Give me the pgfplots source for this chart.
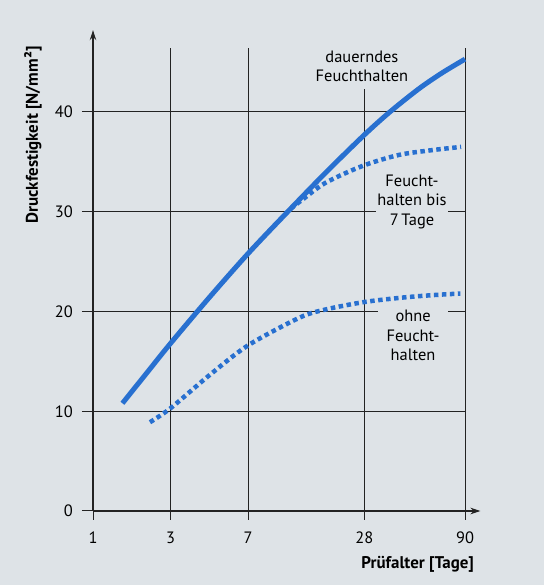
\documentclass[border=0pt]{standalone}
\usepackage{pgfplots}
\pgfplotsset{compat=1.18}
\usepackage{fontspec}
\setmainfont{PT Sans}
\usetikzlibrary{arrows.meta}
\definecolor{bg}{RGB}{222,227,231}
\definecolor{curve}{RGB}{40,112,208}
\definecolor{gridc}{RGB}{35,35,35}
\newcommand{\lbl}{\fontsize{16.5}{19.3}\selectfont}
\newcommand{\blbl}{\fontsize{17}{20}\selectfont}
\begin{document}
\begin{tikzpicture}
\fill[bg] (0bp,0bp) rectangle (544bp,585bp);
\useasboundingbox (0bp,0bp) rectangle (544bp,585bp);
\begin{axis}[
  at={(93bp,74bp)}, anchor=south west,
  x=77.5bp, y=9.975bp,
  xmin=0, xmax=5.0, ymin=0, ymax=48.2,
  axis lines=left,
  axis line style={line width=1.1bp, draw=gridc, -{Stealth[length=10bp,width=6.5bp]}},
  xtick={0,1,2,3.5,4.8}, xticklabels={1,3,7,28,90},
  ytick={0,10,20,30,40},
  major tick length=0pt,
  tick style={draw=none},
  tick label style={font=\lbl, inner sep=0pt},
  xticklabel style={anchor=north, yshift=-20.5bp},
  yticklabel style={anchor=east, xshift=-20bp},
  /pgf/number format/assume math mode=true,
  clip=false,
]
% grid lines and tick stubs
\draw[gridc, line width=1bp] (axis cs:-0.142,0) -- (axis cs:0,0);
\draw[gridc, line width=1bp] (axis cs:-0.142,10) -- (axis cs:4.8,10);
\draw[gridc, line width=1bp] (axis cs:-0.142,20) -- (axis cs:4.8,20);
\draw[gridc, line width=1bp] (axis cs:-0.142,30) -- (axis cs:4.8,30);
\draw[gridc, line width=1bp] (axis cs:-0.142,40) -- (axis cs:4.8,40);
\draw[gridc, line width=1bp] (axis cs:0,-0.9) -- (axis cs:0,0);
\draw[gridc, line width=1bp] (axis cs:1,-0.9) -- (axis cs:1,46.4);
\draw[gridc, line width=1bp] (axis cs:2,-0.9) -- (axis cs:2,46.4);
\draw[gridc, line width=1bp] (axis cs:3.5,-0.9) -- (axis cs:3.5,42.3);
\draw[gridc, line width=1bp] (axis cs:4.8,-0.9) -- (axis cs:4.8,46.4);
% annotations
\node[align=center, font=\lbl, inner sep=0pt] at (axis cs:3.47,44.6) {dauerndes\\Feuchthalten};
\node[align=center, font=\lbl, fill=bg, inner sep=1bp] at (axis cs:4.116,30.98) {Feucht-\\halten bis\\7\,Tage};
\node[align=center, font=\lbl, fill=bg, inner sep=1bp, minimum width=70bp] at (axis cs:4.13,17.6) {ohne\\Feucht-\\halten};
% dauerndes Feuchthalten
\addplot[curve, line width=5bp, smooth] coordinates {
 (0.38,10.8) (0.7,13.9) (1.0,16.8) (1.5,21.4) (2.0,25.8) (2.5,29.9) (3.0,33.9) (3.5,37.7) (3.83,40.0) (4.2,42.3) (4.5,43.9) (4.8,45.3)
};
% Feuchthalten bis 7 Tage
\addplot[curve, line width=4.5bp, dash pattern=on 4.5bp off 3.5bp, smooth] coordinates {
 (2.55,30.3) (2.7,31.2) (3.0,32.9) (3.48,34.6) (3.95,35.7) (4.4,36.2) (4.75,36.5)
};
% ohne Feuchthalten
\addplot[curve, line width=4.5bp, dash pattern=on 4.5bp off 3.5bp, smooth] coordinates {
 (0.735,8.9) (1.0,10.3) (1.5,13.6) (2.0,16.6) (2.67,19.4) (3.0,20.2) (3.5,20.95) (4.0,21.4) (4.4,21.65) (4.74,21.8)
};
\end{axis}
\node[rotate=90, font=\bfseries\blbl] at (33bp,450bp) {Druckfestigkeit [N/mm²]};
\node[anchor=east, font=\bfseries\blbl, inner sep=0pt] at (474bp,21bp) {Prüfalter [Tage]};
\end{tikzpicture}
\end{document}
